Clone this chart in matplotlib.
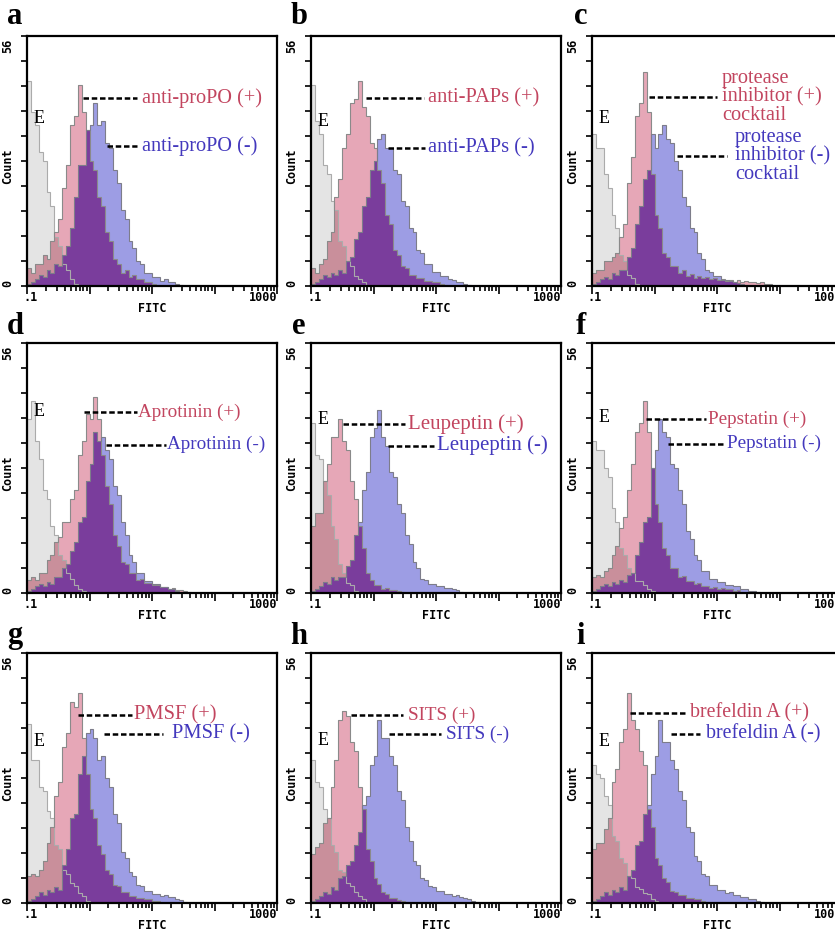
import numpy as np
import matplotlib.pyplot as plt

# bins: 16 per decade, FITC .1 to 1000
edges = np.logspace(-1, 3, 65)

# counts (E = blank, pos = (+), neg = (-))
e_a = [46, 39, 36, 30, 28, 21, 18, 11, 9, 5, 3.5, 1.5, 0.5]
pos_a = [4, 3, 5, 5, 7, 6, 10, 12, 15, 22, 27, 36, 38, 45, 39, 35, 28, 26, 20, 18, 12, 10, 6, 5, 3,
         3.5, 2, 2.5, 1.5, 1.5, 1, 1, 0.5, 0.3]
neg_a = [0.5, 1, 1.5, 2.5, 2, 3.5, 3, 5, 4.5, 7, 9, 13, 20, 27, 27, 35, 36, 41, 36, 37, 32, 31, 26,
         23, 17, 15, 10, 8.5, 5.5, 5, 3, 3, 2, 2, 1.2, 1.5, 1, 1, 0.5, 0.3]

e_b = [45, 37, 34, 27, 25, 19, 17, 10, 9, 5.5, 4.5, 2.2, 1.6, 0.8, 0.3]
pos_b = [4, 3, 5, 6, 10, 12, 20, 24, 31, 34, 41, 42, 46, 40, 38, 32, 31, 26, 23, 16, 14, 8, 7, 4.5,
         4, 2.5, 2.5, 1.8, 1.8, 1.2, 1.2, 0.8, 0.8, 0.5, 0.3]
neg_b = [0.5, 1, 1.5, 2.5, 2, 3, 2.5, 3.5, 3, 5.5, 6.5, 10.5, 12, 18, 20, 26, 28, 33, 34, 31, 31, 26,
         25, 19, 18, 13, 12, 8, 7.5, 5, 5, 3.2, 3.2, 2.3, 2.2, 1.5, 1.4, 1, 0.9, 0.5, 0.3]

e_c = [34, 31, 31, 25, 22, 16, 13, 7, 5.5, 2.5, 1.8, 0.5]
pos_c = [3, 3.5, 3.5, 5.5, 5.5, 6.5, 7.5, 11, 14, 23, 29, 38, 41, 48, 39, 25, 16, 13, 7.5, 6.5, 4.5,
         4.5, 3, 3.5, 2.2, 2.8, 1.8, 2.2, 1.8, 2, 1.5, 1.8, 1.3, 1.6, 1.2, 1.4, 1, 1.3, 0.9, 1.1,
         0.8, 1, 0.7, 0.8, 0.5, 0.4]
neg_c = [0.5, 1, 1.5, 2, 1.5, 3, 2.5, 3.5, 3.5, 6.5, 8.5, 14, 18, 24, 26, 34, 31, 34, 36, 33, 32, 28,
         26, 20, 18, 13, 12, 7.5, 6, 3.5, 3.2, 2.2, 2.2, 1.4, 1.4, 1.1, 1, 0.7, 0.5]

e_d = [39, 43, 34, 30, 23, 21, 15, 13, 8.5, 7.5, 4.5, 3.2, 1.8, 1, 0.5]
pos_d = [3, 3.5, 3, 4.5, 4.5, 7.5, 8.5, 11.5, 12.5, 16, 16, 21, 23, 31, 34, 40, 39, 44, 39, 31, 24,
         20, 13, 10.5, 7, 6.5, 4.5, 4.5, 3, 3.2, 2.2, 2.2, 1.8, 1.7, 1.3, 1.3, 0.9, 1.1, 0.7, 0.6,
         0.5, 0.3]
neg_d = [0.5, 1, 1.5, 2, 1.5, 2.5, 2, 3.5, 3.5, 5.5, 6.5, 9.5, 11.5, 16, 17, 25, 29, 36, 34, 35, 32,
         30, 24, 22, 16, 13, 8.5, 7, 4.5, 4.5, 2.7, 2.8, 2, 2, 1.3, 1.3, 0.9, 0.9, 0.5, 0.3]

e_e = [38, 31, 30, 25, 22, 15, 12, 6.5, 4.5, 2.2, 1.7, 0.5]
pos_e = [15, 18, 18, 25, 29, 35, 35, 39, 34, 32, 25, 21, 15, 10, 4.5, 3, 1.8, 1.7, 1, 1.1, 0.7, 0.6,
         0.5, 0.3]
neg_e = [0.5, 1, 1.5, 2.5, 2, 3.5, 3, 3.5, 3.5, 6, 7.5, 13, 16, 23, 27, 35, 37, 41, 35, 33, 27, 26,
         20, 18, 13, 11, 7, 5.5, 3.2, 3, 2, 2, 1.5, 1.5, 1.1, 1.2, 0.8, 0.6, 0.3]

e_f = [34, 32, 32, 28, 26, 19, 16, 10, 8.5, 5.5, 4.5, 2.7, 2.7, 1.8, 1, 0.5]
pos_f = [3.5, 4, 3.5, 5, 5.5, 8.5, 10.5, 14.5, 17, 23, 29, 36, 38, 43, 36, 28, 20, 16, 10, 8.5, 5.5,
         5.5, 3.5, 3.8, 2.7, 2.8, 2, 2.2, 1.6, 1.6, 1.2, 1.3, 1, 1.1, 0.8, 0.9, 0.5, 0.6, 0.3]
neg_f = [0.5, 1, 1.5, 2, 1.5, 2.5, 2, 3, 2.5, 4, 4.5, 8.5, 11.5, 16, 17, 28, 32, 39, 36, 35, 29, 28,
         23, 20, 14, 12, 8.5, 7.5, 5, 5, 3.2, 3.2, 2.4, 2.4, 1.8, 1.9, 1.5, 1.5, 1, 0.9, 0.5, 0.5,
         0.2]

e_g = [40, 32, 32, 26, 25, 20.5, 19, 13, 12, 7.5, 6.5, 4.5, 3.8, 2.3, 1.6, 0.5]
pos_g = [6, 6.5, 6, 7.5, 9.5, 13.5, 17, 24, 27, 35, 38, 45, 44, 47, 37, 29, 21, 19, 13, 11, 7.5, 6.5,
         4, 3.8, 2.4, 2.4, 1.6, 1.6, 1.2, 1.2, 0.9, 0.9, 0.5, 0.4]
neg_g = [0.5, 1, 1.5, 2.5, 1.8, 3, 2.5, 3.5, 3, 8.5, 12, 19, 20, 29, 33, 38, 39, 37, 32, 33, 28, 26,
         20, 18, 11.5, 10, 7, 6, 4, 3.8, 2.8, 2.8, 2, 2.1, 1.6, 1.7, 1.3, 1.3, 0.9, 0.6, 0.3]

e_h = [32, 27, 26, 21, 19, 13, 11.5, 7.5, 7, 4.5, 3.7, 2.4, 1.6, 0.8, 0.3]
pos_h = [11, 12.5, 13.5, 18, 19, 26, 32, 41, 43, 42, 36, 34, 26, 21, 12, 9.5, 5.5, 4.2, 2.5, 2, 1.2,
         1.1, 0.7, 0.5, 0.3]
neg_h = [0.5, 1, 1.5, 2.5, 2, 3.5, 3, 5.5, 6, 8.5, 9.5, 13, 16, 22, 24, 31, 33, 41, 37, 37, 33, 31,
         25, 23, 17, 14, 9.5, 8.5, 5.5, 5.2, 3.7, 3.5, 2.7, 2.7, 2.1, 2.1, 1.6, 1.7, 1.3, 1.2, 0.8,
         0.5, 0.3]

e_i = [31, 29, 28, 24, 22, 15, 14, 10, 9, 6, 5.5, 3.6, 3.2, 2.2, 2, 1, 0.5]
pos_i = [12, 13.5, 13.5, 16.5, 19, 27, 30, 36, 39, 47, 41, 39, 34, 31, 21, 17, 10, 8.5, 5.5, 4.8,
         2.8, 2.5, 1.8, 1.7, 1.2, 1.2, 0.8, 0.8, 0.5, 0.3]
neg_i = [0.5, 1, 1.5, 2.5, 1.8, 3, 2.5, 3.5, 3, 6, 7.5, 13, 14, 20, 22, 29, 33, 41, 36, 36, 32, 30,
         25, 23, 17, 16, 10.5, 9.5, 6.5, 6, 4, 4, 3, 3, 2.3, 2.4, 1.8, 1.8, 1.4, 1.4, 1, 0.8, 0.5,
         0.2]

pos_labels = ['anti-proPO (+)', 'anti-PAPs (+)', 'protease\ninhibitor (+)\ncocktail',
              'Aprotinin (+)', 'Leupeptin (+)', 'Pepstatin (+)',
              'PMSF (+)', 'SITS (+)', 'brefeldin A (+)']
neg_labels = ['anti-proPO (-)', 'anti-PAPs (-)', 'protease\ninhibitor (-)\ncocktail',
              'Aprotinin (-)', 'Leupeptin (-)', 'Pepstatin (-)',
              'PMSF (-)', 'SITS (-)', 'brefeldin A (-)']
letters = ['a', 'b', 'c', 'd', 'e', 'f', 'g', 'h', 'i']

data = [(e_a, pos_a, neg_a), (e_b, pos_b, neg_b), (e_c, pos_c, neg_c),
        (e_d, pos_d, neg_d), (e_e, pos_e, neg_e), (e_f, pos_f, neg_f),
        (e_g, pos_g, neg_g), (e_h, pos_h, neg_h), (e_i, pos_i, neg_i)]

# leader lines (x start, x end, y) and label x, in axes fractions
pos_lines = [(0.224, 0.44, 0.752, 0.46), (0.22, 0.452, 0.752, 0.468), (0.228, 0.50, 0.756, 0.52),
             (0.228, 0.44, 0.723, 0.444), (0.128, 0.376, 0.675, 0.388), (0.216, 0.456, 0.695, 0.464),
             (0.204, 0.42, 0.751, 0.428), (0.16, 0.368, 0.751, 0.388), (0.152, 0.376, 0.759, 0.392)]
neg_lines = [(0.32, 0.44, 0.56, 0.46), (0.308, 0.456, 0.552, 0.468), (0.34, 0.54, 0.52, 0.572),
             (0.316, 0.556, 0.594, 0.56), (0.308, 0.492, 0.59, 0.504), (0.304, 0.528, 0.598, 0.54),
             (0.308, 0.544, 0.675, 0.58), (0.312, 0.52, 0.675, 0.54), (0.316, 0.432, 0.675, 0.456)]
label_size = [14.6, 14.8, 14.6, 13.8, 15, 13.8, 14.8, 13.8, 14.4]
e_label_y = [0.67, 0.66, 0.67, 0.727, 0.695, 0.70, 0.647, 0.65, 0.647]

col_x = [27, 311, 592]
row_bottom = [286, 593, 903]
letter_x = [15, 299, 581]
letter_y = [17, 326, 636]

W, H = 835, 932
fig = plt.figure(figsize=(W / 100, H / 100), dpi=100)

c_e = '#e4e4e4'
c_pos = '#e6a7b7'
c_neg = '#9d9de4'
c_mix_e = '#c98f9b'
c_mix = '#7a3d9c'
serif = 'Liberation Serif'
mono = 'DejaVu Sans Mono'

for k in range(9):
    r, c = divmod(k, 3)
    ax = fig.add_axes([col_x[c] / W, 1 - row_bottom[r] / H, 250 / W, 250 / H])
    e, p, n = [np.pad(np.array(v, float), (0, 64 - len(v))) for v in data[k]]

    ax.stairs(e, edges, fill=True, color=c_e)
    ax.stairs(p, edges, fill=True, color=c_pos)
    ax.stairs(n, edges, fill=True, color=c_neg)
    ax.stairs(np.minimum(e, p), edges, fill=True, color=c_mix_e)
    ax.stairs(np.minimum(p, n), edges, fill=True, color=c_mix)
    ax.stairs(e, edges, color='#ababab', lw=0.8)
    ax.stairs(p, edges, color='#8a8a8a', lw=0.8)
    ax.stairs(n, edges, color='#7d7d8a', lw=0.8)

    ax.set_xscale('log')
    ax.set_xlim(0.1, 1000)
    ax.set_ylim(0, 56)
    ax.set_yticks(np.linspace(0, 56, 11))
    ax.set_xticks([0.1, 1, 10, 100, 1000])
    ax.tick_params(axis='both', which='both', direction='out', labelleft=False,
                   labelbottom=False, width=1.2, color='black')
    ax.tick_params(axis='x', which='major', length=6)
    ax.tick_params(axis='x', which='minor', length=3.5)
    ax.tick_params(axis='y', length=4)
    for s in ax.spines.values():
        s.set_linewidth(1.6)

    tk = dict(transform=ax.transAxes, family=mono, fontweight='bold', fontsize=8.5)
    ax.text(0.012, -0.045, '.1', ha='center', va='center', **tk)
    ax.text(1.0, -0.045, '1000', ha='right', va='center', **tk)
    ax.text(0.5, -0.09, 'FITC', ha='center', va='center', **tk)
    ax.text(-0.078, 0.012, '0', ha='center', va='center', rotation=90, **tk)
    ax.text(-0.078, 0.96, '56', ha='center', va='center', rotation=90, **tk)
    ax.text(-0.078, 0.48, 'Count', ha='center', va='center', rotation=90, **tk)

    ax.text(0.025, e_label_y[k], 'E', transform=ax.transAxes, family=serif,
            fontsize=13, ha='left', va='center')

    x1, x2, y, tx = pos_lines[k]
    ax.plot([x1, x2], [y, y], transform=ax.transAxes, color='black', lw=1.8,
            dashes=(2.2, 1.1), clip_on=False)
    ax.text(tx, y, pos_labels[k], transform=ax.transAxes, family=serif, fontsize=label_size[k],
            color='#c2455f', ha='left', va='center', linespacing=0.95)
    x1, x2, y, tx = neg_lines[k]
    ax.plot([x1, x2], [y, y], transform=ax.transAxes, color='black', lw=1.8,
            dashes=(2.2, 1.1), clip_on=False)
    ax.text(tx, y, neg_labels[k], transform=ax.transAxes, family=serif, fontsize=label_size[k],
            color='#4338bd', ha='left', va='center', linespacing=0.95)

    fig.text(letter_x[c] / W, 1 - letter_y[r] / H, letters[k], family=serif,
             fontweight='bold', fontsize=22, ha='center', va='center')

fig.savefig('out.png', dpi=100)
